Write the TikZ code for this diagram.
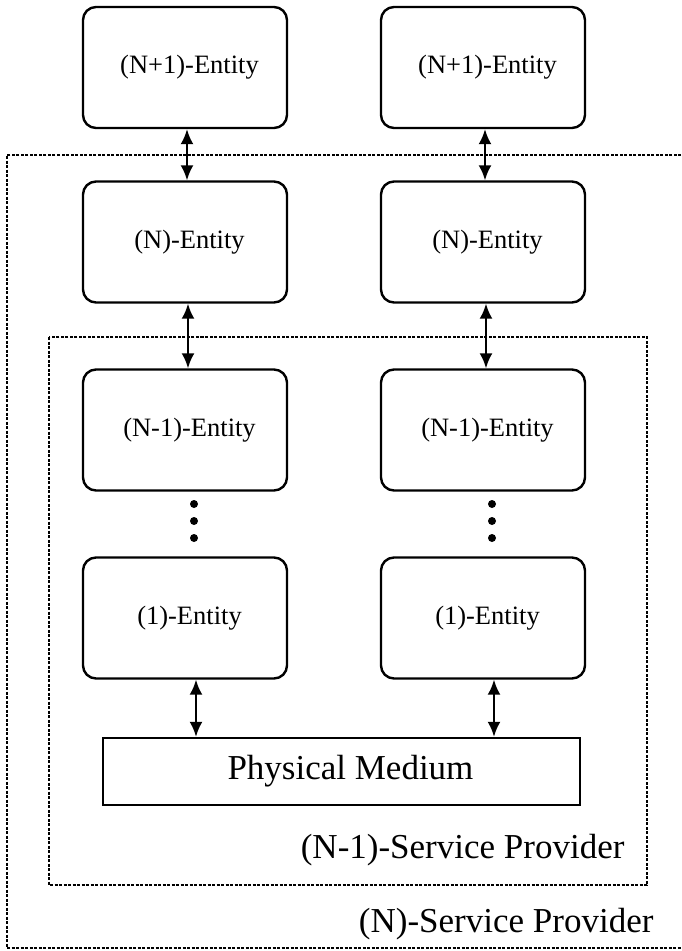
\documentclass[tikz,border=0pt]{standalone}
\usepackage{fontspec}
\setmainfont{Liberation Serif}
\usetikzlibrary{arrows.meta}

\begin{document}
\begin{tikzpicture}[x=1pt,y={(0,-1pt)},
  entity/.style={draw,line width=2.4pt,rounded corners=13pt,minimum width=204pt,
    minimum height=121pt,inner sep=0pt,font=\fontsize{26.5}{30}\selectfont,
    execute at begin node=\hspace{9pt}},
  link/.style={line width=2.2pt,{Latex[length=15pt,width=13pt]}-{Latex[length=15pt,width=13pt]}},
  provider/.style={line width=1.3pt,dash pattern=on 3pt off 1.5pt},
  big/.style={font=\fontsize{35}{40}\selectfont}]
  \useasboundingbox (0,0) rectangle (681,951);

  % service providers
  \draw[provider] (681,155) -- (7,155) -- (7,948) -- (681,948);
  \draw[provider] (49,337) rectangle (647,885);
  \node[big,anchor=base east] (nsp) at (657,932) {(N)-Service Provider};
  \node[big,anchor=base east] (nmsp) at (628,858) {(N-1)-Service Provider};

  % entities
  \foreach \col/\cx in {l/185,r/483} {
    \node[entity] (\col1) at (\cx,67.5) {(N+1)-Entity};
    \node[entity] (\col2) at (\cx,242) {(N)-Entity};
    \node[entity] (\col3) at (\cx,430) {(N-1)-Entity};
    \node[entity] (\col4) at (\cx,618) {(1)-Entity};
    \foreach \y in {504,521,538}
      \fill ([xshift=9pt]\col3.south |- 0,\y) circle (4pt);
  }
  \node[draw,line width=2.4pt,minimum width=477pt,minimum height=67pt,big,
    execute at begin node=\hspace{18pt}] (pm) at (341.5,771.5) {Physical Medium};

  % links
  \foreach \col in {l,r} {
    \draw[link] ([xshift=2pt]\col1.south) -- ([xshift=2pt]\col2.north);
    \draw[link] ([xshift=3pt]\col2.south) -- ([xshift=3pt]\col3.north);
    \draw[link] ([xshift=11pt]\col4.south) -- ([xshift=11pt]\col4.south |- pm.north);
  }

\end{tikzpicture}
\end{document}
